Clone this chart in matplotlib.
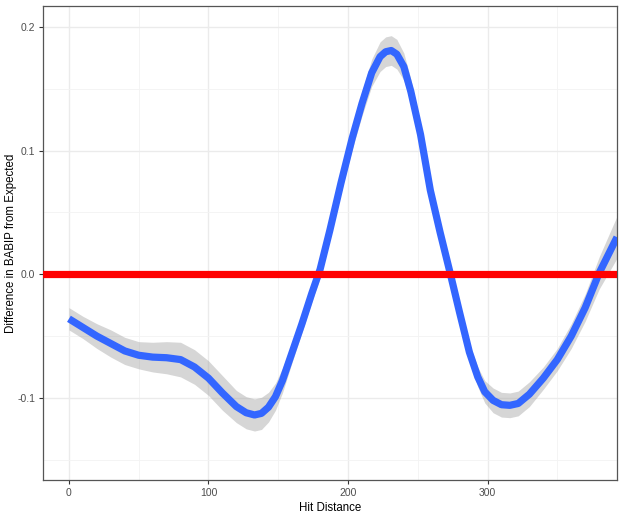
import numpy as np
import matplotlib
matplotlib.use("Agg")
import matplotlib.pyplot as plt

plt.rcParams['font.family'] = ['Liberation Sans', 'DejaVu Sans']

# valores
hit_dist = [0, 10, 20, 30, 40, 50, 60, 70, 80, 90, 100, 110, 120, 127, 133,
            138, 143, 148, 153, 160, 167, 174, 180, 187, 195, 203, 210, 217,
            223, 227, 231, 235, 240, 245, 252, 259, 266, 273, 280, 287, 293,
            298, 304, 310, 316, 322, 330, 340, 350, 360, 370, 380, 392.8]
diff_babip = [-0.036, -0.043, -0.050, -0.056, -0.062, -0.0655, -0.067, -0.0675,
              -0.069, -0.075, -0.084, -0.096, -0.107, -0.112, -0.1138, -0.1125,
              -0.1075, -0.099, -0.086, -0.063, -0.040, -0.0156, 0.004, 0.0356,
              0.074, 0.110, 0.138, 0.163, 0.176, 0.180, 0.181, 0.178, 0.168,
              0.148, 0.113, 0.068, 0.034, 0.002, -0.031, -0.063, -0.083,
              -0.095, -0.102, -0.1055, -0.106, -0.1045, -0.097, -0.084, -0.069,
              -0.050, -0.027, 0.001, 0.030]
se_band = [0.009, 0.009, 0.010, 0.011, 0.011, 0.011, 0.012, 0.013, 0.014,
           0.014, 0.014, 0.014, 0.013, 0.013, 0.013, 0.013, 0.012, 0.011,
           0.010, 0.008, 0.007, 0.007, 0.007, 0.007, 0.008, 0.009, 0.010,
           0.011, 0.012, 0.012, 0.012, 0.012, 0.011, 0.010, 0.008, 0.007,
           0.006, 0.006, 0.006, 0.007, 0.008, 0.009, 0.010, 0.010, 0.010,
           0.010, 0.010, 0.009, 0.009, 0.010, 0.011, 0.013, 0.017]
ref_line = 0.0

x = np.array(hit_dist)
y = np.array(diff_babip)
se = np.array(se_band)

fig = plt.figure(figsize=(6.24, 5.16), dpi=100)
ax = fig.add_axes([43/624, 36/516, 574/624, 474/516])

ax.fill_between(x, y - se, y + se, color="#999999", alpha=0.4, linewidth=0, zorder=2)
ax.plot(x, y, color="#3366FF", linewidth=5.2, solid_capstyle="butt",
        solid_joinstyle="round", zorder=3)
ax.axhline(ref_line, color="#FF0000", linewidth=5.2, zorder=4)

ax.set_xlim(-18.6, 392.8)
ax.set_ylim(-0.1664, 0.217)

ax.set_xticks([0, 100, 200, 300])
ax.set_yticks([-0.1, 0.0, 0.1, 0.2])
ax.set_yticklabels(["-0.1", "0.0", "0.1", "0.2"])
ax.set_xticks([50, 150, 250, 350], minor=True)
ax.set_yticks([-0.15, -0.05, 0.05, 0.15], minor=True)

ax.grid(which="major", color="#EBEBEB", linewidth=1.0, zorder=0)
ax.grid(which="minor", color="#F3F3F3", linewidth=0.6, zorder=0)
ax.set_axisbelow(True)

for s in ax.spines.values():
    s.set_color("#555555")
    s.set_linewidth(0.9)

ax.tick_params(which="major", length=3, width=0.8, color="#333333",
               labelsize=7.5, labelcolor="#4D4D4D", pad=2.5)
ax.tick_params(which="minor", length=0)

ax.set_xlabel("Hit Distance", fontsize=8.3, color="black", labelpad=3)
ax.set_ylabel("Difference in BABIP from Expected", fontsize=8.3, color="black")
ax.yaxis.set_label_coords(-0.045, 0.5)

fig.savefig("out.png", dpi=100)
